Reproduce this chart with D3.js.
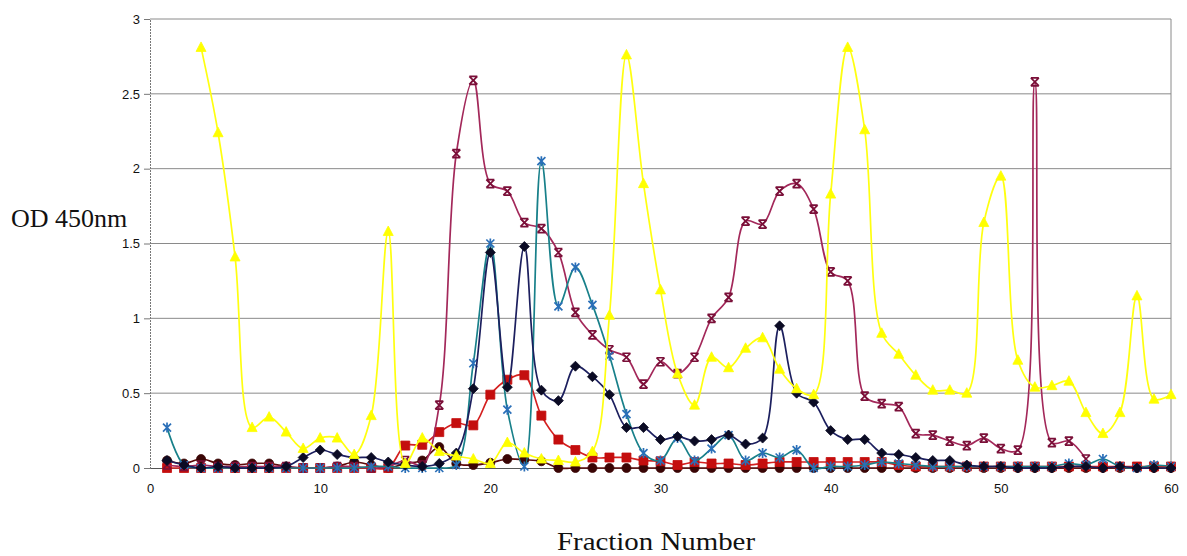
<!DOCTYPE html>
<html>
<head>
<meta charset="utf-8">
<script src="https://cdn.jsdelivr.net/npm/d3@7"></script>
<style>
  body { margin: 0; background: #fff; }
  svg { display: block; }
  .tick text { font-family: "Liberation Sans", Arial, sans-serif; font-size: 13px; fill: #111; }
</style>
</head>
<body>
<div id="chart"></div>
<script>

/* CONSTANTS */
const width = 1187;
const height = 556;
const margin = { top: 19, right: 16, bottom: 88, left: 150 };

/* DATA: OD 450nm per fraction, one array per series (null = no reading) */
const fractions = [1, 2, 3, 4, 5, 6, 7, 8, 9, 10, 11, 12, 13, 14, 15, 16, 17, 18, 19, 20,
  21, 22, 23, 24, 25, 26, 27, 28, 29, 30, 31, 32, 33, 34, 35, 36, 37, 38, 39, 40,
  41, 42, 43, 44, 45, 46, 47, 48, 49, 50, 51, 52, 53, 54, 55, 56, 57, 58, 59, 60];

const yellowSeries = [null, null, 2.81, 2.24, 1.41, 0.27, 0.34, 0.24, 0.13, 0.20,
  0.20, 0.09, 0.35, 1.58, 0.03, 0.20, 0.11, 0.08, 0.06, 0.03,
  0.17, 0.10, 0.06, 0.05, 0.04, 0.11, 1.02, 2.76, 1.90, 1.19,
  0.63, 0.42, 0.74, 0.67, 0.80, 0.87, 0.66, 0.53, 0.49, 1.83,
  2.81, 2.26, 0.90, 0.76, 0.62, 0.52, 0.52, 0.50, 1.64, 1.95,
  0.72, 0.54, 0.55, 0.58, 0.37, 0.23, 0.37, 1.15, 0.46, 0.49];

const maroonSeries = [0.02, 0.01, 0.02, 0.01, 0.01, 0.01, 0.01, 0.01, 0.00, 0.00,
  0.01, 0.01, 0.00, 0.01, 0.05, 0.02, 0.42, 2.10, 2.59, 1.90,
  1.85, 1.64, 1.60, 1.44, 1.04, 0.89, 0.79, 0.74, 0.56, 0.71,
  0.63, 0.74, 1.00, 1.14, 1.65, 1.63, 1.85, 1.90, 1.73, 1.31,
  1.25, 0.48, 0.43, 0.41, 0.23, 0.22, 0.18, 0.15, 0.20, 0.13,
  0.12, 2.58, 0.17, 0.18, 0.06, null, null, null, null, null];

const tealSeries = [0.27, 0.02, 0.00, 0.00, 0.00, 0.00, 0.00, 0.00, 0.00, 0.00,
  0.00, 0.00, 0.01, 0.01, 0.00, 0.00, 0.00, 0.02, 0.70, 1.50,
  0.39, 0.01, 2.05, 1.08, 1.34, 1.09, 0.75, 0.36, 0.10, 0.05,
  0.20, 0.05, 0.13, 0.22, 0.05, 0.10, 0.07, 0.12, 0.00, 0.01,
  0.01, 0.02, 0.04, 0.03, 0.02, 0.01, 0.01, 0.01, 0.01, 0.01,
  0.01, 0.01, 0.01, 0.03, 0.02, 0.06, 0.01, 0.00, 0.02, 0.01];

const navySeries = [0.05, 0.02, 0.00, 0.01, 0.00, 0.00, 0.00, 0.01, 0.07, 0.12,
  0.09, 0.07, 0.07, 0.04, 0.02, 0.01, 0.03, 0.10, 0.53, 1.44,
  0.54, 1.48, 0.52, 0.45, 0.68, 0.61, 0.49, 0.27, 0.27, 0.19,
  0.21, 0.18, 0.19, 0.22, 0.16, 0.20, 0.95, 0.50, 0.44, 0.25,
  0.19, 0.19, 0.10, 0.09, 0.07, 0.05, 0.05, 0.02, 0.01, 0.01,
  0.00, 0.00, 0.00, 0.01, 0.01, 0.00, 0.01, 0.00, 0.00, 0.00];

const redSeries = [0.00, 0.00, 0.00, 0.00, 0.00, 0.00, 0.00, 0.00, 0.00, 0.00,
  0.00, 0.00, 0.00, 0.00, 0.15, 0.155, 0.24, 0.30, 0.285, 0.49,
  0.59, 0.62, 0.35, 0.19, 0.12, 0.07, 0.07, 0.07, 0.05, 0.045,
  0.02, 0.04, 0.03, 0.03, 0.02, 0.03, 0.04, 0.04, 0.04, 0.04,
  0.04, 0.04, 0.04, 0.02, 0.01, 0.01, 0.01, 0.01, 0.01, 0.01,
  0.01, 0.01, 0.01, 0.01, 0.01, 0.01, 0.01, 0.01, 0.01, 0.01];

const brownSeries = [0.05, 0.03, 0.06, 0.03, 0.02, 0.03, 0.03, 0.01, 0.00, 0.00,
  0.01, 0.04, 0.02, 0.00, 0.03, 0.05, 0.14, 0.03, 0.02, 0.035,
  0.06, 0.055, 0.045, 0.00, 0.00, 0.00, 0.00, 0.00, 0.00, 0.00,
  0.00, 0.00, 0.00, 0.00, 0.00, 0.00, 0.00, 0.00, 0.00, 0.00,
  0.00, 0.00, 0.00, 0.00, 0.00, 0.00, 0.00, 0.00, 0.00, 0.00,
  0.00, 0.00, 0.00, 0.00, 0.00, 0.00, 0.00, 0.00, 0.00, 0.00];

const yTicks = [0, 0.5, 1, 1.5, 2, 2.5, 3];
const xTicks = [0, 10, 20, 30, 40, 50, 60];

/* series drawing order: back to front */
const series = [
  { name: "brown",  values: brownSeries,  line: "#5c0a0a", marker: "#3a0505", shape: "circle" },
  { name: "red",    values: redSeries,    line: "#d42020", marker: "#c40e0e", shape: "square" },
  { name: "maroon", values: maroonSeries, line: "#a3285a", marker: "#7a0f38", shape: "xbar" },
  { name: "teal",   values: tealSeries,   line: "#18808a", marker: "#2a6fb8", shape: "star" },
  { name: "navy",   values: navySeries,   line: "#1c1f5e", marker: "#0b0b24", shape: "diamond" },
  { name: "yellow", values: yellowSeries, line: "#ffff10", marker: "#ffff00", shape: "triangle" }
];

/* SVG */
const svg = d3.select("#chart")
  .append("svg")
  .attr("width", width)
  .attr("height", height);

/* SCALES */
const xScale = d3.scaleLinear()
  .domain([0, 60])
  .range([margin.left, width - margin.right]);

const yScale = d3.scaleLinear()
  .domain([0, 3])
  .range([height - margin.bottom, margin.top]);

/* GRID */
svg.append("g")
  .selectAll("line")
  .data(yTicks.slice(1))
  .join("line")
  .attr("x1", xScale(0))
  .attr("x2", xScale(60))
  .attr("y1", d => yScale(d))
  .attr("y2", d => yScale(d))
  .attr("stroke", "#8a8a8a")
  .attr("stroke-width", 1);

/* plot border (right side) */
svg.append("line")
  .attr("x1", xScale(60)).attr("x2", xScale(60))
  .attr("y1", yScale(3)).attr("y2", yScale(0))
  .attr("stroke", "#8a8a8a");

/* AXES */
const yAxis = d3.axisLeft(yScale)
  .tickValues(yTicks)
  .tickFormat(d3.format("~g"))
  .tickSize(6)
  .tickPadding(4);

svg.append("g")
  .attr("transform", `translate(${xScale(0)},0)`)
  .call(yAxis)
  .call(g => g.select(".domain").attr("stroke", "#777").attr("stroke-dasharray", "2,1"))
  .call(g => g.selectAll(".tick line").attr("stroke", "#777"));

const xAxis = d3.axisBottom(xScale)
  .tickValues(xTicks)
  .tickSize(0)
  .tickPadding(16);

svg.append("g")
  .attr("transform", `translate(0,${yScale(0)})`)
  .call(xAxis)
  .call(g => g.select(".domain").attr("stroke", "#555"));

/* LINES (smoothed, centripetal so short segments don't overshoot much) */
const lineGen = d3.line()
  .defined(d => d.v !== null)
  .x(d => xScale(d.f))
  .y(d => yScale(d.v))
  .curve(d3.curveCatmullRom.alpha(0.5));

const markerPath = {
  circle: "M0,-4.5A4.5,4.5 0 1,1 0,4.5A4.5,4.5 0 1,1 0,-4.5Z",
  square: "M-4.5,-4.5H4.5V4.5H-4.5Z",
  diamond: "M0,-5L5,0L0,5L-5,0Z",
  triangle: "M0,-5.5L5,4H-5Z",
  xbar: "M-4,-4L4,4M4,-4L-4,4M-4,-4H4M-4,4H4",
  star: "M-4,-4L4,4M4,-4L-4,4M0,-5V5"
};

series.forEach(s => {
  const pts = fractions.map((f, i) => ({ f: f, v: s.values[i] }));
  const g = svg.append("g").attr("class", "series-" + s.name);

  g.append("path")
    .datum(pts.filter(d => d.v !== null))
    .attr("d", lineGen)
    .attr("fill", "none")
    .attr("stroke", s.line)
    .attr("stroke-width", 1.7);

  const open = s.shape === "xbar" || s.shape === "star";
  g.selectAll("path.mk")
    .data(pts.filter(d => d.v !== null))
    .join("path")
    .attr("class", "mk")
    .attr("transform", d => `translate(${xScale(d.f)},${yScale(d.v)})`)
    .attr("d", markerPath[s.shape])
    .attr("fill", open ? "none" : s.marker)
    .attr("stroke", s.marker)
    .attr("stroke-width", open ? 1.7 : 0.8);
});

/* AXIS TITLES */
svg.append("text")
  .attr("x", 11)
  .attr("y", 227)
  .style("font-family", "'Liberation Serif', 'Times New Roman', serif")
  .style("font-size", "26px")
  .attr("fill", "#111")
  .text("OD 450nm");

svg.append("text")
  .attr("x", 557)
  .attr("y", 550)
  .attr("textLength", 198)
  .attr("lengthAdjust", "spacingAndGlyphs")
  .style("font-family", "'Liberation Serif', 'Times New Roman', serif")
  .style("font-size", "26px")
  .attr("fill", "#111")
  .text("Fraction Number");

</script>
</body>
</html>
